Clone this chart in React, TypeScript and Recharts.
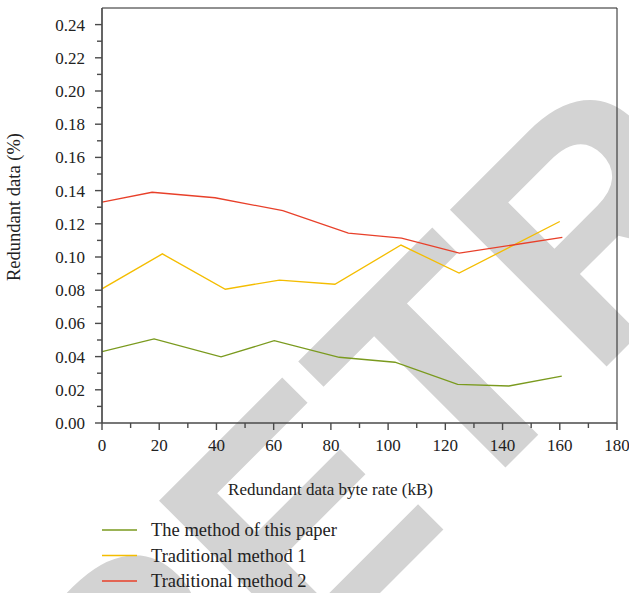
import React from 'react';
import { LineChart, Line, XAxis, YAxis, Legend, ReferenceLine } from 'recharts';

const seriesNames = ['The method of this paper', 'Traditional method 1', 'Traditional method 2'];
const seriesColors = ['#7a9a1e', '#f4bd00', '#e8402a'];

const methodPaperX = [0, 18.2, 41.6, 60.2, 82.9, 102.4, 124.3, 142.2, 160.7];
const methodPaperY = [0.043, 0.0507, 0.0398, 0.0496, 0.0396, 0.0366, 0.0233, 0.0223, 0.0283];

const traditional1X = [0, 21.1, 43.1, 62, 81.4, 104.5, 124.8, 160];
const traditional1Y = [0.0808, 0.1019, 0.0806, 0.0861, 0.0836, 0.1072, 0.0903, 0.1214];

const traditional2X = [0, 17.5, 39.5, 63.2, 86.1, 104.7, 124.9, 160.9];
const traditional2Y = [0.1331, 0.139, 0.1357, 0.1279, 0.1144, 0.1114, 0.1023, 0.1118];

const xTicks = [0, 10, 20, 30, 40, 50, 60, 70, 80, 90, 100, 110, 120, 130, 140, 150, 160, 170, 180];
const xMajorLabels = ['0', '20', '40', '60', '80', '100', '120', '140', '160', '180'];
const yTicks = [0, 0.01, 0.02, 0.03, 0.04, 0.05, 0.06, 0.07, 0.08, 0.09, 0.1, 0.11, 0.12, 0.13, 0.14, 0.15, 0.16, 0.17, 0.18, 0.19, 0.2, 0.21, 0.22, 0.23, 0.24];
const yMajorLabels = ['0.00', '0.02', '0.04', '0.06', '0.08', '0.10', '0.12', '0.14', '0.16', '0.18', '0.20', '0.22', '0.24'];

const xTitle = 'Redundant data byte rate (kB)';
const yTitle = 'Redundant data (%)';
const watermark = 'RETRACTED';

const toPoints = (xs: number[], ys: number[]) => xs.map((x, i) => ({ x, y: ys[i] }));

const SERIF = '"Liberation Serif", "DejaVu Serif", serif';
const AXIS = '#4a4a4a';
const serifStyle = (size: number) => ({ fontFamily: SERIF, fontSize: size, fill: '#222' });

const XTick = (props: any) => {
  const { x, y, index } = props;
  const major = index % 2 === 0;
  return (
    <g>
      <line x1={x} y1={y} x2={x} y2={y + (major ? 7 : 5)} stroke={AXIS} strokeWidth={1.4} />
      {major && (
        <text x={x} y={y + 28} textAnchor="middle" style={serifStyle(17)}>
          {xMajorLabels[index / 2]}
        </text>
      )}
    </g>
  );
};

const YTick = (props: any) => {
  const { x, y, index } = props;
  const major = index % 2 === 0;
  return (
    <g>
      <line x1={x} y1={y} x2={x - (major ? 7 : 5)} y2={y} stroke={AXIS} strokeWidth={1.4} />
      {major && (
        <text x={x - 17} y={y + 6} textAnchor="end" style={serifStyle(17)}>
          {yMajorLabels[index / 2]}
        </text>
      )}
    </g>
  );
};

const LegendContent = (props: any) => {
  const payload = props.payload || [];
  return (
    <svg width={320} height={80} style={{ display: 'block' }}>
      {payload.map((p: any, i: number) => {
        const cy = 15 + i * 25.5;
        return (
          <g key={i}>
            <line x1={7} y1={cy} x2={42} y2={cy} stroke={p.color} strokeWidth={1.5} />
            <text x={56} y={cy + 6} style={serifStyle(18.5)}>
              {p.value}
            </text>
          </g>
        );
      })}
    </svg>
  );
};

export default function App() {
  return (
    <div style={{ position: 'absolute', left: 0, top: 0, width: 629, height: 593, background: '#fff', overflow: 'hidden' }}>
      <svg width={629} height={593} style={{ position: 'absolute', left: 0, top: 0 }}>
        <text
          x={136}
          y={837}
          transform="rotate(-45 136 837)"
          style={{ fontFamily: '"Liberation Sans", Arial, sans-serif', fontWeight: 'bold', fontSize: 322, fill: '#d3d3d3' }}
        >
          {watermark}
        </text>
      </svg>
      <div style={{ position: 'absolute', left: 0, top: 0 }}>
        <LineChart width={629} height={593} margin={{ top: 8, right: 12, left: 0, bottom: 0 }}>
          <XAxis
            type="number"
            dataKey="x"
            domain={[0, 180]}
            ticks={xTicks}
            interval={0}
            tickSize={0}
            tickMargin={0}
            tickLine={false}
            tick={XTick}
            height={170}
            axisLine={{ stroke: AXIS, strokeWidth: 1.7 }}
            allowDataOverflow
            label={(p: any) => {
              const vb = p.viewBox || { x: 102, y: 423, width: 515 };
              return (
                <text x={vb.x + vb.width / 2 - 29} y={vb.y + 71.5} textAnchor="middle" style={serifStyle(17)}>
                  {xTitle}
                </text>
              );
            }}
          />
          <YAxis
            type="number"
            dataKey="y"
            domain={[0, 0.25]}
            ticks={yTicks}
            interval={0}
            tickSize={0}
            tickMargin={0}
            tickLine={false}
            tick={YTick}
            width={102}
            axisLine={{ stroke: AXIS, strokeWidth: 1.7 }}
            allowDataOverflow
            label={() => {
              const cx = 20;
              const cy = 207;
              return (
                <text x={cx} y={cy} transform={`rotate(-90 ${cx} ${cy})`} textAnchor="middle" style={serifStyle(18.5)}>
                  {yTitle}
                </text>
              );
            }}
          />
          <ReferenceLine y={0.25} stroke="#222" strokeWidth={1} ifOverflow="visible" />
          <ReferenceLine x={180} stroke="#222" strokeWidth={1} ifOverflow="visible" />
          <Line
            data={toPoints(methodPaperX, methodPaperY)}
            dataKey="y"
            name={seriesNames[0]}
            stroke={seriesColors[0]}
            strokeWidth={1.3}
            dot={false}
            activeDot={false}
            isAnimationActive={false}
          />
          <Line
            data={toPoints(traditional1X, traditional1Y)}
            dataKey="y"
            name={seriesNames[1]}
            stroke={seriesColors[1]}
            strokeWidth={1.3}
            dot={false}
            activeDot={false}
            isAnimationActive={false}
          />
          <Line
            data={toPoints(traditional2X, traditional2Y)}
            dataKey="y"
            name={seriesNames[2]}
            stroke={seriesColors[2]}
            strokeWidth={1.3}
            dot={false}
            activeDot={false}
            isAnimationActive={false}
          />
          <Legend
            layout="vertical"
            align="center"
            verticalAlign="middle"
            content={LegendContent}
            wrapperStyle={{ left: 95, top: 515, width: 320, height: 80 }}
          />
        </LineChart>
      </div>
    </div>
  );
}
